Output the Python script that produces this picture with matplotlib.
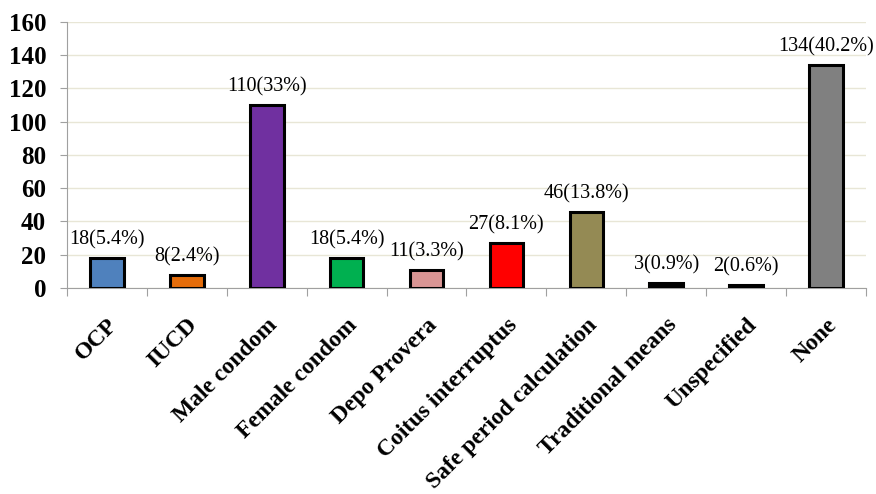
import matplotlib.pyplot as plt

plt.rcParams['font.family'] = ['Liberation Serif', 'DejaVu Serif']

methods = ['OCP', 'IUCD', 'Male condom', 'Female condom', 'Depo Provera',
           'Coitus interruptus', 'Safe period calculation', 'Traditional means',
           'Unspecified', 'None']
counts = [18, 8, 110, 18, 11, 27, 46, 3, 2, 134]
pcts = ['5.4', '2.4', '33', '5.4', '3.3', '8.1', '13.8', '0.9', '0.6', '40.2']
colors = ['#4f81bd', '#e46c0a', '#7030a0', '#00b050', '#d99594',
          '#ff0000', '#948a54', '#000000', '#000000', '#808080']

fig = plt.figure(figsize=(8.76, 4.94), dpi=100)
ax = fig.add_axes([0.0765, 0.417, 0.912, 0.5385])

x = range(len(methods))
bars = ax.bar(x, counts, width=0.42, color=colors, edgecolor='black',
              linewidth=2.2, zorder=3)

for b, c, p in zip(bars, counts, pcts):
    ax.annotate(f'{c}({p}%)', (b.get_x() + b.get_width() / 2, c),
                xytext=(0, 6), textcoords='offset points',
                ha='center', va='bottom', fontsize=14.5)

ax.set_xlim(-0.5, len(methods) - 0.5)
ax.set_ylim(0, 160)
ax.set_yticks(range(0, 161, 20))
ax.yaxis.grid(True, color='#e8e6d6', linewidth=1, zorder=0)

# category boundaries get the tick marks, labels sit on the bar centres
ax.set_xticks([i - 0.5 for i in range(len(methods) + 1)])
ax.set_xticklabels([])
ax.set_xticks(list(x), minor=True)
ax.set_xticklabels(methods, minor=True, rotation=45, ha='right',
                   rotation_mode='anchor', fontsize=17, fontweight='bold')
ax.tick_params(axis='x', which='minor', length=0, pad=19)
ax.tick_params(axis='x', which='major', length=6, color='#a0a0a0')
ax.tick_params(axis='y', length=5, color='#a0a0a0', labelsize=18, pad=10)
for lbl in ax.get_yticklabels():
    lbl.set_fontweight('bold')

for s in ['top', 'right']:
    ax.spines[s].set_visible(False)
for s in ['left', 'bottom']:
    ax.spines[s].set_color('#a0a0a0')

fig.savefig('out.png', dpi=100)
